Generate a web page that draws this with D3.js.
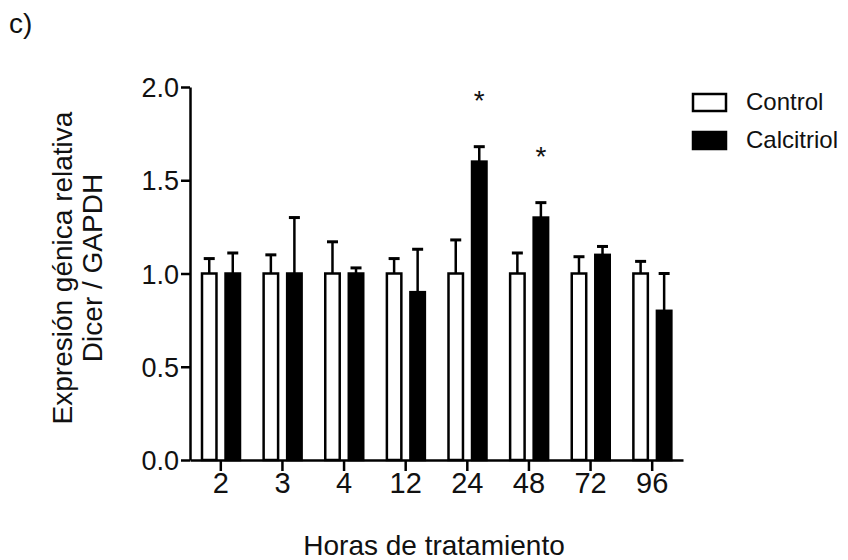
<!DOCTYPE html>
<html>
  <head>
    <meta charset="utf-8">
    <title>Dicer / GAPDH</title>
    <style>
      body { margin: 0; background: #fff; }
      svg text { font-family: "Liberation Sans", Arial, sans-serif; fill: #111; }
      .axis path, .axis line { stroke: #000; stroke-width: 2.5px; }
    </style>
  </head>
  <body>
    <svg width="848" height="560"></svg>
    <script src="https://d3js.org/d3.v7.min.js"></script>
    <script>
      // values
      const hours = ["2", "3", "4", "12", "24", "48", "72", "96"];
      const series = ["Control", "Calcitriol"];
      const controlMean = [1.0, 1.0, 1.0, 1.0, 1.0, 1.0, 1.0, 1.0];
      const controlErr = [0.08, 0.10, 0.17, 0.08, 0.18, 0.11, 0.09, 0.065];
      const calcMean = [1.0, 1.0, 1.0, 0.9, 1.6, 1.3, 1.1, 0.8];
      const calcErr = [0.11, 0.30, 0.03, 0.23, 0.08, 0.08, 0.045, 0.20];
      const significant = ["24", "48"];
      const yTicks = [0, 0.5, 1.0, 1.5, 2.0];

      const svg = d3.select("svg");
      const plotLeft = 190, plotRight = 683, plotTop = 87, plotBottom = 460;

      const x = d3.scaleBand().domain(hours).range([plotLeft, plotRight]);
      const xs = d3.scaleBand().domain(series).range([11, 51]).paddingInner(0.3);
      const y = d3.scaleLinear().domain([0, 2]).range([plotBottom, plotTop]);

      const rows = hours.map((h, i) => ({
        h: h,
        vals: [
          {s: "Control", m: controlMean[i], e: controlErr[i]},
          {s: "Calcitriol", m: calcMean[i], e: calcErr[i]}
        ]
      }));

      const groups = svg.selectAll(".grp")
        .data(rows)
        .join("g")
        .attr("class", "grp")
        .attr("transform", d => `translate(${x(d.h)},0)`);

      const bars = groups.selectAll(".bar")
        .data(d => d.vals)
        .join("g")
        .attr("class", "bar");

      // error bars (upper only) drawn first so the bar covers the stem
      bars.append("line")
        .attr("x1", d => xs(d.s) + xs.bandwidth() / 2)
        .attr("x2", d => xs(d.s) + xs.bandwidth() / 2)
        .attr("y1", d => y(d.m))
        .attr("y2", d => y(d.m + d.e))
        .attr("stroke", "#000").attr("stroke-width", 2.5);
      bars.append("line")
        .attr("x1", d => xs(d.s) + xs.bandwidth() / 2 - 5.5)
        .attr("x2", d => xs(d.s) + xs.bandwidth() / 2 + 5.5)
        .attr("y1", d => y(d.m + d.e))
        .attr("y2", d => y(d.m + d.e))
        .attr("stroke", "#000").attr("stroke-width", 3);

      bars.append("rect")
        .attr("x", d => xs(d.s) + 1)
        .attr("width", xs.bandwidth() - 2)
        .attr("y", d => y(d.m))
        .attr("height", d => y(0) - y(d.m))
        .attr("fill", d => d.s === "Control" ? "#fff" : "#000")
        .attr("stroke", "#000")
        .attr("stroke-width", 2.5);

      // significance stars
      svg.selectAll(".star")
        .data(rows.filter(d => significant.includes(d.h)))
        .join("text")
        .attr("class", "star")
        .attr("x", d => x(d.h) + xs("Calcitriol") + xs.bandwidth() / 2)
        .attr("y", d => y(d.vals[1].m + d.vals[1].e) - 37)
        .attr("text-anchor", "middle")
        .style("font-size", "28px")
        .text("*");

      // axes
      const yAxis = d3.axisLeft(y).tickValues(yTicks).tickFormat(d3.format(".1f"))
        .tickSize(9).tickSizeOuter(0).tickPadding(2);
      const gy = svg.append("g").attr("class", "axis")
        .attr("transform", `translate(${plotLeft},0)`).call(yAxis);
      gy.selectAll("text").style("font-size", "27px").attr("dy", "0.36em");

      const xAxis = d3.axisBottom(x).tickSize(11).tickSizeOuter(0).tickPadding(1);
      const gx = svg.append("g").attr("class", "axis")
        .attr("transform", `translate(0,${plotBottom})`).call(xAxis);
      gx.selectAll("text").style("font-size", "29px");

      // titles
      svg.append("text")
        .attr("x", 434).attr("y", 555)
        .attr("text-anchor", "middle")
        .style("font-size", "28px")
        .text("Horas de tratamiento");

      const yt = svg.append("text")
        .attr("transform", "translate(72,268) rotate(-90)")
        .attr("text-anchor", "middle")
        .style("font-size", "28px");
      yt.append("tspan").attr("x", 0).attr("y", 0).text("Expresión génica relativa");
      yt.append("tspan").attr("x", 0).attr("y", 30).text("Dicer / GAPDH");

      svg.append("text")
        .attr("x", 9).attr("y", 33)
        .style("font-size", "28px")
        .text("c)");

      // legend
      const legend = svg.append("g").attr("transform", "translate(693,94)");
      const li = legend.selectAll("g")
        .data(series)
        .join("g")
        .attr("transform", (d, i) => `translate(0,${i * 38})`);
      li.append("rect")
        .attr("width", 33).attr("height", 17)
        .attr("fill", d => d === "Control" ? "#fff" : "#000")
        .attr("stroke", "#000").attr("stroke-width", 2.5);
      li.append("text")
        .attr("x", 53).attr("y", 16)
        .style("font-size", "24px")
        .text(d => d);
    </script>
  </body>
</html>
